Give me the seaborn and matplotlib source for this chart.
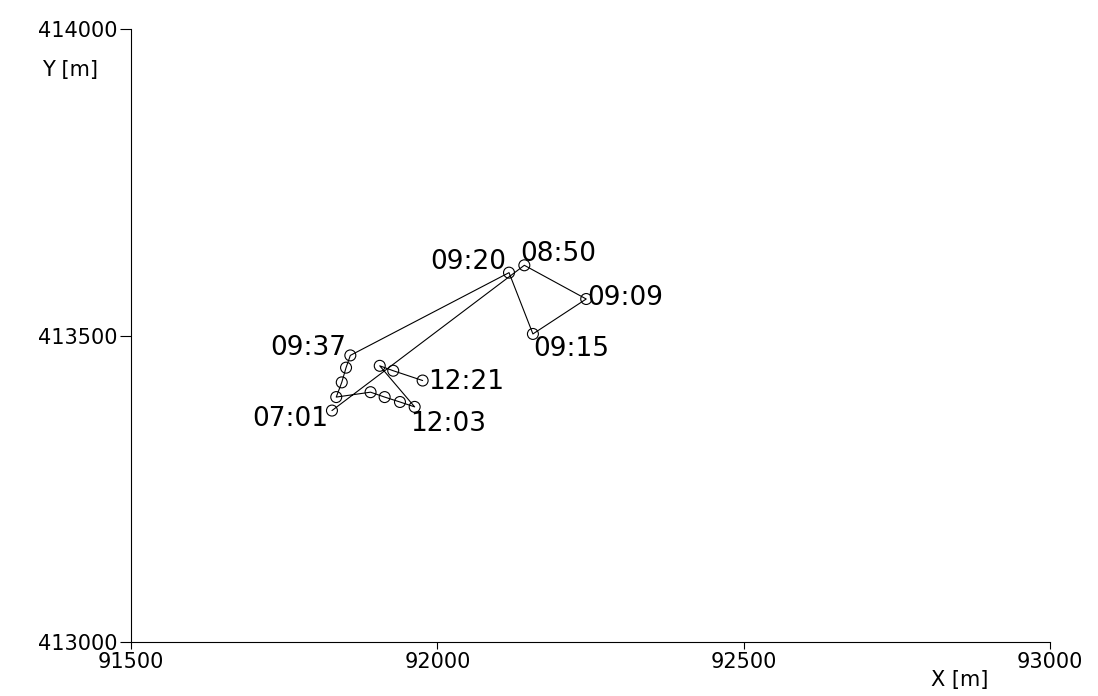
import matplotlib
matplotlib.use("Agg")
import matplotlib.pyplot as plt
import seaborn as sns
import pandas as pd

# Track of the observed positions, in visiting order
x_m = [91828, 92142, 92243, 92156, 92117, 91858, 91851, 91844, 91835,
       91891, 91914, 91939, 91963, 91906, 91928, 91976]
y_m = [413378, 413615, 413560, 413503, 413603, 413468, 413448, 413424, 413400,
       413408, 413400, 413392, 413384, 413451, 413443, 413427]
times = ["07:01", "08:50", "09:09", "09:15", "09:20", "09:37", "", "", "",
         "", "", "", "12:03", "", "", "12:21"]

x_ticks = [91500, 92000, 92500, 93000]
y_ticks = [413000, 413500, 414000]

# label offsets (points) and alignment for the time stamps
label_style = {
    "07:01": (-3, -6, "right"),
    "08:50": (-3, 8, "left"),
    "09:09": (1, 1, "left"),
    "09:15": (0, -11, "left"),
    "09:20": (-2, 8, "right"),
    "09:37": (-3, 5, "right"),
    "12:03": (-3, -12, "left"),
    "12:21": (4, -1, "left"),
}

df = pd.DataFrame({"x": x_m, "y": y_m, "t": times})

sns.set_style("white")
plt.rcParams["font.family"] = ["DejaVu Sans"]
plt.rcParams["text.color"] = "black"

fig = plt.figure(figsize=(10.98, 6.96), dpi=100)
ax = fig.add_axes([0.1193, 0.0772, 0.8370, 0.8807])

sns.lineplot(data=df, x="x", y="y", sort=False, estimator=None,
             color="black", linewidth=0.8, ax=ax)
sns.scatterplot(data=df, x="x", y="y", marker="o", s=62,
                facecolor="none", edgecolor="black", linewidth=0.8, ax=ax)

for _, r in df.iterrows():
    if r.t:
        dx, dy, ha = label_style[r.t]
        ax.annotate(r.t, (r.x, r.y), xytext=(dx, dy), textcoords="offset points",
                    ha=ha, va="center", fontsize=19, color="black")

ax.set_xlim(x_ticks[0], x_ticks[-1])
ax.set_ylim(y_ticks[0], y_ticks[-1])
ax.set_xticks(x_ticks)
ax.set_yticks(y_ticks)
ax.set_xticklabels([str(v) for v in x_ticks], fontsize=15, color="black")
ax.set_yticklabels([str(v) for v in y_ticks], fontsize=15, color="black")
ax.tick_params(axis="x", bottom=True, direction="out", length=5, width=0.8,
               pad=2, color="black")
ax.tick_params(axis="y", left=True, direction="out", length=8, width=0.8,
               pad=2, color="black")
ax.set_xlabel("")
ax.set_ylabel("")

for s in ["top", "right"]:
    ax.spines[s].set_visible(False)
for s in ["left", "bottom"]:
    ax.spines[s].set_color("black")
    ax.spines[s].set_linewidth(0.8)

fig.text(70 / 1098, 1 - 70 / 696, "Y [m]", ha="center", va="center",
         fontsize=15, color="black")
fig.text(960 / 1098, 1 - 680 / 696, "X [m]", ha="center", va="center",
         fontsize=15, color="black")

fig.savefig("out.png", dpi=100, facecolor="white")
